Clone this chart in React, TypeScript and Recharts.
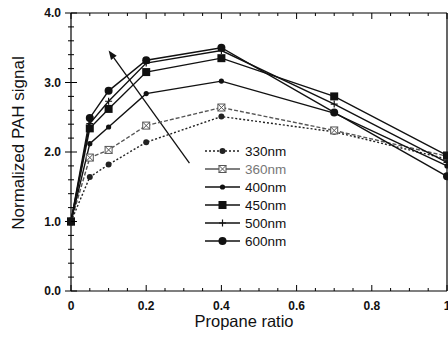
import { Legend, Line, LineChart, ReferenceLine, XAxis, YAxis } from "recharts";

// propane ratio (x) and normalized PAH signal per wavelength
const RATIO = [0, 0.05, 0.1, 0.2, 0.4, 0.7, 1.0];
const NM330 = [1.0, 1.64, 1.82, 2.14, 2.51, 2.29, 1.9];
const NM360 = [1.0, 1.92, 2.03, 2.38, 2.64, 2.31, 1.94];
const NM400 = [1.0, 2.12, 2.36, 2.84, 3.02, 2.56, 1.8];
const NM450 = [1.0, 2.34, 2.62, 3.15, 3.35, 2.8, 1.95];
const NM500 = [1.0, 2.41, 2.73, 3.28, 3.46, 2.69, 1.85];
const NM600 = [1.0, 2.49, 2.88, 3.32, 3.5, 2.57, 1.65];

const X_TICKS = [
  0, 0.05, 0.1, 0.15, 0.2, 0.25, 0.3, 0.35, 0.4, 0.45, 0.5, 0.55, 0.6, 0.65,
  0.7, 0.75, 0.8, 0.85, 0.9, 0.95, 1,
];
const Y_TICKS = [
  0, 0.2, 0.4, 0.6, 0.8, 1, 1.2, 1.4, 1.6, 1.8, 2, 2.2, 2.4, 2.6, 2.8, 3, 3.2,
  3.4, 3.6, 3.8, 4,
];
const X_MAX = 1;
const Y_MAX = 4;

// arrow annotation (tail -> head), in data units
const ARROW = [
  { x: 0.315, y: 1.84 },
  { x: 0.1, y: 3.46 },
];

type Kind = "dot" | "xsquare" | "small" | "square" | "plus" | "circle";

const SERIES: {
  key: string;
  name: string;
  values: number[];
  kind: Kind;
  color: string;
  dash?: string;
}[] = [
  { key: "nm330", name: "330nm", values: NM330, kind: "dot", color: "#222", dash: "2 2" },
  { key: "nm360", name: "360nm", values: NM360, kind: "xsquare", color: "#555", dash: "4 2" },
  { key: "nm400", name: "400nm", values: NM400, kind: "small", color: "#111" },
  { key: "nm450", name: "450nm", values: NM450, kind: "square", color: "#111" },
  { key: "nm500", name: "500nm", values: NM500, kind: "plus", color: "#111" },
  { key: "nm600", name: "600nm", values: NM600, kind: "circle", color: "#111" },
];

// draw order: the square series sits on top, as in the original
const DRAW_ORDER = ["nm330", "nm360", "nm400", "nm500", "nm600", "nm450"];

const data = RATIO.map((ratio, i) => {
  const row: Record<string, number> = { ratio };
  for (const s of SERIES) row[s.key] = s.values[i];
  return row;
});

const FONT = '"Liberation Sans", Arial, sans-serif';

function Marker({ kind, cx, cy, color }: { kind: Kind; cx: number; cy: number; color: string }) {
  switch (kind) {
    case "dot":
      return <circle cx={cx} cy={cy} r={3} fill={color} />;
    case "small":
      return <circle cx={cx} cy={cy} r={2.6} fill={color} />;
    case "circle":
      return <circle cx={cx} cy={cy} r={4} fill={color} />;
    case "square":
      return <rect x={cx - 4} y={cy - 4} width={8} height={8} fill={color} />;
    case "plus":
      return (
        <path d={`M${cx - 3.5},${cy}H${cx + 3.5}M${cx},${cy - 3.5}V${cy + 3.5}`} stroke={color} strokeWidth={1.2} />
      );
    case "xsquare":
      return (
        <g stroke={color} strokeWidth={1} fill="#fff">
          <rect x={cx - 3.5} y={cy - 3.5} width={7} height={7} />
          <path d={`M${cx - 3.5},${cy - 3.5}L${cx + 3.5},${cy + 3.5}M${cx + 3.5},${cy - 3.5}L${cx - 3.5},${cy + 3.5}`} />
        </g>
      );
  }
}

const isMajor = (v: number, step: number) => Math.abs(v / step - Math.round(v / step)) < 1e-6;

function BottomTick(props: any) {
  const { x, y, payload } = props;
  const v = payload.value as number;
  const major = isMajor(v, 0.2);
  const label = v === 0 ? "0" : v === 1 ? "1" : v.toFixed(1);
  return (
    <g>
      <line x1={x} x2={x} y1={y} y2={y - (major ? 6 : 3)} stroke="#000" strokeWidth={1} />
      {major && (
        <text x={x} y={y + 19} textAnchor="middle" fontSize={12} fontWeight="bold" fontFamily={FONT} fill="#111">
          {label}
        </text>
      )}
    </g>
  );
}

function LeftTick(props: any) {
  const { x, y, payload } = props;
  const v = payload.value as number;
  const major = isMajor(v, 1);
  return (
    <g>
      <line x1={x} x2={x + (major ? 6 : 3)} y1={y} y2={y} stroke="#000" strokeWidth={1} />
      {major && (
        <text x={x - 10} y={y} dy="0.35em" textAnchor="end" fontSize={12} fontWeight="bold" fontFamily={FONT} fill="#111">
          {v.toFixed(1)}
        </text>
      )}
    </g>
  );
}

// inward tick at the top edge, for a vertical reference line (x1,y2 = top end)
function TopTick(props: any) {
  const len = isMajor(props.tickValue, 0.2) ? 6 : 3;
  return <line x1={props.x1} x2={props.x1} y1={props.y2} y2={props.y2 + len} stroke="#000" strokeWidth={1} />;
}

// inward tick at the right edge, for a horizontal reference line (x1 = right end)
function RightTick(props: any) {
  const len = isMajor(props.tickValue, 1) ? 6 : 3;
  return <line x1={props.x1} x2={props.x1 - len} y1={props.y1} y2={props.y1} stroke="#000" strokeWidth={1} />;
}

function ArrowShape(props: any) {
  const { x1, y1, x2, y2 } = props;
  const a = Math.atan2(y2 - y1, x2 - x1);
  const L = 9;
  const W = 3.5;
  const bx = x2 - L * Math.cos(a);
  const by = y2 - L * Math.sin(a);
  const px = -Math.sin(a) * W;
  const py = Math.cos(a) * W;
  return (
    <g>
      <line x1={x1} y1={y1} x2={bx} y2={by} stroke="#111" strokeWidth={1.3} />
      <path d={`M${x2},${y2}L${bx + px},${by + py}L${bx - px},${by - py}Z`} fill="#111" />
    </g>
  );
}

function LegendBox() {
  return (
    <svg width={110} height={112} style={{ display: "block" }}>
      {SERIES.map((s, i) => {
        const cy = 9 + i * 18;
        return (
          <g key={s.key}>
            <line x1={2} x2={37} y1={cy} y2={cy} stroke={s.color} strokeWidth={1.4} strokeDasharray={s.kind === "dot" ? "2 2" : undefined} />
            <Marker kind={s.kind} cx={19.5} cy={cy} color={s.color} />
            <text x={42} y={cy} dy="0.36em" fontSize={13.5} fontFamily={FONT} fill={s.kind === "xsquare" ? "#777" : "#111"}>
              {s.name}
            </text>
          </g>
        );
      })}
    </svg>
  );
}

export default function App() {
  const ordered = DRAW_ORDER.map((k) => SERIES.find((s) => s.key === k)!);
  return (
    <div style={{ position: "absolute", left: 0, top: 0, background: "#fff" }}>
      <LineChart width={448} height={337} data={data} margin={{ top: 13, right: 1, left: 0, bottom: 0 }}>
        <XAxis
          xAxisId="x"
          dataKey="ratio"
          type="number"
          domain={[0, X_MAX]}
          ticks={X_TICKS}
          interval={0}
          height={46}
          tickSize={0}
          tickMargin={0}
          tickLine={false}
          tick={<BottomTick />}
          axisLine={{ stroke: "#000", strokeWidth: 1.2 }}
          label={{
            content: () => (
              <text x={244} y={327} textAnchor="middle" fontSize={16.5} fontFamily={FONT} fill="#111">
                Propane ratio
              </text>
            ),
          }}
        />
        <YAxis
          yAxisId="y"
          type="number"
          domain={[0, Y_MAX]}
          ticks={Y_TICKS}
          interval={0}
          width={71}
          tickSize={0}
          tickMargin={0}
          tickLine={false}
          tick={<LeftTick />}
          axisLine={{ stroke: "#000", strokeWidth: 1.2 }}
          label={{
            content: () => (
              <text
                transform="translate(18,143) rotate(-90)"
                dy="0.35em"
                textAnchor="middle"
                fontSize={17}
                fontFamily={FONT}
                fill="#111"
              >
                Normalized PAH signal
              </text>
            ),
          }}
        />
        {/* frame: top and right edges */}
        <ReferenceLine xAxisId="x" yAxisId="y" y={Y_MAX} stroke="#000" strokeWidth={1.2} ifOverflow="visible" />
        <ReferenceLine xAxisId="x" yAxisId="y" x={X_MAX} stroke="#000" strokeWidth={1.2} ifOverflow="visible" />
        {X_TICKS.map((v) => (
          <ReferenceLine key={`tx${v}`} xAxisId="x" yAxisId="y" x={v} ifOverflow="visible" shape={<TopTick tickValue={v} />} />
        ))}
        {Y_TICKS.map((v) => (
          <ReferenceLine key={`ty${v}`} xAxisId="x" yAxisId="y" y={v} ifOverflow="visible" shape={<RightTick tickValue={v} />} />
        ))}
        <ReferenceLine xAxisId="x" yAxisId="y" segment={ARROW} shape={<ArrowShape />} />
        <Legend
          layout="vertical"
          align="center"
          verticalAlign="middle"
          wrapperStyle={{ left: 203, top: 142, width: 110, height: 112 }}
          content={() => <LegendBox />}
        />
        {ordered.map((s) => (
          <Line
            key={s.key}
            xAxisId="x"
            yAxisId="y"
            type="linear"
            dataKey={s.key}
            name={s.name}
            stroke={s.color}
            strokeWidth={1.4}
            strokeDasharray={s.dash}
            isAnimationActive={false}
            dot={(p: any) => <Marker key={`${s.key}-${p.index}`} kind={s.kind} cx={p.cx} cy={p.cy} color={s.color} />}
            activeDot={false}
          />
        ))}
      </LineChart>
    </div>
  );
}
